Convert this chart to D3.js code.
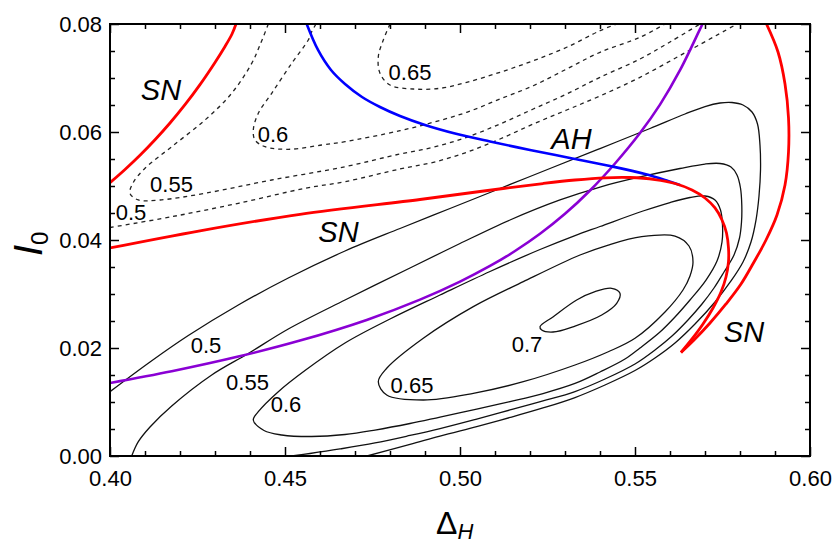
<!DOCTYPE html>
<html>
<head>
<meta charset="utf-8">
<script src="https://cdn.jsdelivr.net/npm/d3@7"></script>
<style>
  body { margin: 0; background: #ffffff; }
  svg { display: block; font-family: "Liberation Sans", Arial, sans-serif; }
</style>
</head>
<body>
<svg id="chart" width="834" height="543"></svg>
<script>
// Axis ticks
const xMajorTicks = [0.40, 0.45, 0.50, 0.55, 0.60];
const xMinorTicks = [0.41, 0.42, 0.43, 0.44, 0.46, 0.47, 0.48, 0.49, 0.51, 0.52, 0.53, 0.54, 0.56, 0.57, 0.58, 0.59];
const yMajorTicks = [0.00, 0.02, 0.04, 0.06, 0.08];
const yMinorTicks = [0.005, 0.01, 0.015, 0.025, 0.03, 0.035, 0.045, 0.05, 0.055, 0.065, 0.07, 0.075];

// Saddle-node bifurcation curves [Δ_H, I_0]
const snLeft = [[0.4000,0.05061],[0.40429,0.05306],[0.40857,0.05569],[0.41286,0.05856],[0.41714,0.06167],
  [0.42143,0.06506],[0.42571,0.06878],[0.43000,0.07289],[0.43286,0.07585],[0.43486,0.07815],[0.43600,0.08]];
const snLower = [[0.4000,0.03852],[0.42571,0.04170],[0.45429,0.04476],[0.48857,0.04750],[0.50571,0.04898],
  [0.52371,0.05046],[0.53286,0.05111],[0.54143,0.05152],[0.54857,0.05157],[0.55571,0.05120],[0.56143,0.05046],
  [0.56629,0.04926],[0.57000,0.04778],[0.57286,0.04593],[0.57486,0.04370],[0.57614,0.04130],[0.57671,0.03852],
  [0.57671,0.03593],[0.57600,0.03315],[0.57457,0.03037],[0.57229,0.02741],[0.56943,0.02444],[0.56629,0.02167],
  [0.56314,0.01917]];
const snRight = [[0.58757,0.08],[0.59086,0.07481],[0.59286,0.06889],[0.59386,0.06259],[0.59386,0.05630],
  [0.59286,0.05019],[0.59057,0.04463],[0.58743,0.04000],[0.58400,0.03593],[0.58029,0.03185],[0.57600,0.02815],
  [0.57143,0.02463],[0.56686,0.02148],[0.56314,0.01917]];

// Andronov-Hopf curve
const ahCurve = [[0.45620,0.08],[0.45943,0.07519],[0.46314,0.07148],[0.46714,0.06889],[0.47200,0.06648],
  [0.47714,0.06463],[0.48286,0.06296],[0.49000,0.06130],[0.49857,0.05972],[0.50857,0.05824],[0.52000,0.05667],
  [0.53143,0.05519],[0.54286,0.05370],[0.55286,0.05222],[0.55943,0.05093],[0.56286,0.05019]];

// Purple boundary curve
const purpleCurve = [[0.4000,0.01352],[0.41763,0.01569],[0.43666,0.01841],[0.45429,0.02137],[0.47334,0.02520],
  [0.48857,0.02896],[0.50000,0.03230],[0.50857,0.03519],[0.51571,0.03796],[0.52286,0.04115],[0.53000,0.04485],
  [0.53714,0.04917],[0.54429,0.05417],[0.55143,0.05981],[0.55714,0.06507],[0.56286,0.07144],[0.56857,0.07904],
  [0.56929,0.08]];

// Dashed level lines (upper branch)
const dashed050 = [[0.4000,0.04231],[0.41763,0.04431],[0.43666,0.04680],[0.45571,0.04957],[0.46714,0.05080],
  [0.48286,0.05315],[0.49237,0.05439],[0.50191,0.05624],[0.51143,0.05870],[0.52094,0.06148],[0.53049,0.06407],
  [0.54000,0.06667],[0.55143,0.07013],[0.56571,0.07519],[0.57914,0.08]];
const dashed055 = [[0.44523,0.08],[0.44286,0.07611],[0.44049,0.07272],[0.43477,0.06717],[0.42714,0.06222],
  [0.41763,0.05728],[0.41000,0.05328],[0.40657,0.05056],[0.40571,0.04865],[0.40809,0.04741],[0.41429,0.04741],
  [0.42714,0.04865],[0.44620,0.05111],[0.46714,0.05357],[0.48286,0.05593],[0.49237,0.05717],[0.50191,0.05902],
  [0.51143,0.06148],[0.52094,0.06426],[0.53049,0.06704],[0.54000,0.07013],[0.55143,0.07352],[0.56000,0.07667],
  [0.56857,0.08]];
const dashed060 = [[0.45886,0.08],[0.45763,0.07857],[0.45666,0.07704],[0.45191,0.07272],[0.44620,0.06717],
  [0.44237,0.06346],[0.44094,0.06037],[0.44143,0.05852],[0.44429,0.05728],[0.45094,0.05680],[0.46049,0.05759],
  [0.46714,0.05820],[0.48286,0.06024],[0.49237,0.06180],[0.50191,0.06365],[0.51143,0.06611],[0.52094,0.06857],
  [0.53049,0.07167],[0.54000,0.07476],[0.55143,0.07754],[0.55857,0.08]];
const dashed065 = [[0.48000,0.08],[0.47809,0.07704],[0.47666,0.07394],[0.47714,0.07087],[0.48000,0.06870],
  [0.48666,0.06796],[0.49429,0.06809],[0.50191,0.06920],[0.51143,0.07106],[0.52094,0.07320],[0.53049,0.07569],
  [0.54000,0.07876],[0.54477,0.08]];

// Solid level lines (lower branch)
const solid050 = [[0.4000,0.01191],[0.41143,0.01741],[0.42237,0.02231],[0.43666,0.02796],[0.45094,0.03296],
  [0.46714,0.03796],[0.48286,0.04213],[0.49714,0.04583],[0.51143,0.04954],[0.52571,0.05324],[0.54000,0.05694],
  [0.55429,0.06065],[0.56429,0.06333],[0.57000,0.06472],[0.57429,0.06537],[0.57771,0.06546],[0.58086,0.06500],
  [0.58343,0.06370],[0.58500,0.06148],[0.58571,0.05759],[0.58586,0.05296],[0.58543,0.04815],[0.58457,0.04370],
  [0.58314,0.03963],[0.58086,0.03593],[0.57743,0.03241],[0.57286,0.02852],[0.56714,0.02444],[0.56143,0.02093],
  [0.55571,0.01815],[0.55000,0.01583],[0.54143,0.01315],[0.53286,0.01083],[0.52371,0.00889],[0.51429,0.00713],
  [0.50477,0.00546],[0.49429,0.00370],[0.48571,0.00213],[0.47343,0.0]];
const solid055 = [[0.4062,0.0],[0.40809,0.00265],[0.41143,0.00537],[0.41763,0.00926],[0.42906,0.01500],
  [0.43951,0.01898],[0.45094,0.02352],[0.46714,0.02889],[0.48571,0.03481],[0.50000,0.03935],[0.51429,0.04370],
  [0.52857,0.04741],[0.54000,0.04981],[0.55143,0.05167],[0.56286,0.05324],[0.57000,0.05407],[0.57429,0.05417],
  [0.57743,0.05352],[0.57914,0.05204],[0.58014,0.04963],[0.58051,0.04648],[0.58043,0.04333],[0.57986,0.04037],
  [0.57829,0.03722],[0.57543,0.03407],[0.57257,0.03111],[0.56914,0.02815],[0.56514,0.02519],[0.56057,0.02222],
  [0.55571,0.01963],[0.55000,0.01704],[0.54143,0.01426],[0.53286,0.01194],[0.52371,0.01019],[0.51429,0.00852],
  [0.50477,0.00685],[0.49429,0.00509],[0.48571,0.00380],[0.47571,0.00241],[0.46571,0.00130],[0.45714,0.00046],
  [0.45191,0.0]];
const solid060 = [[0.44094,0.00667],[0.44237,0.00820],[0.44809,0.01191],[0.45571,0.01583],[0.46714,0.02093],
  [0.48000,0.02537],[0.49429,0.02981],[0.50857,0.03417],[0.52286,0.03824],[0.53286,0.04083],[0.54000,0.04250],
  [0.55229,0.04537],[0.56000,0.04694],[0.56571,0.04787],[0.57000,0.04815],[0.57286,0.04741],[0.57443,0.04556],
  [0.57500,0.04278],[0.57486,0.03963],[0.57343,0.03611],[0.57029,0.03259],[0.56571,0.02889],[0.56143,0.02574],
  [0.55714,0.02296],[0.55143,0.02000],[0.54714,0.01796],[0.54000,0.01556],[0.53286,0.01343],[0.52371,0.01157],
  [0.51429,0.01009],[0.50477,0.00870],[0.49429,0.00722],[0.48571,0.00602],[0.47571,0.00481],[0.46714,0.00398],
  [0.45763,0.00361],[0.44906,0.00389],[0.44400,0.00472]];
const solid065 = [[0.47666,0.01376],[0.47906,0.01624],[0.48951,0.02180],[0.50380,0.02765],[0.51809,0.03228],
  [0.53429,0.03722],[0.54237,0.03907],[0.55191,0.04061],[0.56143,0.04074],[0.56543,0.03889],[0.56657,0.03593],
  [0.56571,0.03333],[0.56371,0.03074],[0.55857,0.02667],[0.55000,0.02180],[0.54237,0.01931],[0.53286,0.01685],
  [0.51809,0.01376],[0.50380,0.01161],[0.48951,0.01037],[0.47906,0.01130]];
const solid070 = [[0.52286,0.02394],[0.52666,0.02580],[0.53334,0.02889],[0.53857,0.03043],[0.54334,0.03106],
  [0.54571,0.03013],[0.54477,0.02828],[0.54049,0.02611],[0.53286,0.02407],[0.52657,0.02296],[0.52334,0.02333]];

// Curve annotations [text, Δ_H, I_0]
const curveLabels = [["SN",0.41457,0.06593],["SN",0.46529,0.03963],["SN",0.58114,0.02111],["AH",0.53186,0.05685]];
const levelLabels = [["0.65",0.48571,0.06963],["0.6",0.44657,0.05815],["0.55",0.41757,0.04889],["0.5",0.40600,0.04370],
  ["0.5",0.42743,0.01907],["0.55",0.43929,0.01222],["0.6",0.45029,0.00815],["0.65",0.48629,0.01167],["0.7",0.51914,0.01926]];

const svg = d3.select("#chart");
const margin = {left: 110, right: 24, top: 24, bottom: 87};
const W = 834, H = 543;
const x = d3.scaleLinear().domain([0.40, 0.60]).range([margin.left, W - margin.right]);
const y = d3.scaleLinear().domain([0.00, 0.08]).range([H - margin.bottom, margin.top]);

svg.append("defs").append("clipPath").attr("id", "plotClip")
  .append("rect").attr("x", x(0.40)).attr("y", y(0.08))
  .attr("width", x(0.60) - x(0.40)).attr("height", y(0) - y(0.08));

const plot = svg.append("g").attr("clip-path", "url(#plotClip)");
const line = d3.line().x(d => x(d[0])).y(d => y(d[1])).curve(d3.curveCatmullRom.alpha(0.5));
const closedLine = d3.line().x(d => x(d[0])).y(d => y(d[1])).curve(d3.curveCatmullRomClosed.alpha(0.5));

function draw(data, gen, color, width, dash) {
  plot.append("path").attr("d", gen(data)).attr("fill", "none")
    .attr("stroke", color).attr("stroke-width", width)
    .attr("stroke-dasharray", dash || null).attr("stroke-linejoin", "round");
}

// Level lines
[dashed050, dashed055, dashed060, dashed065].forEach(d => draw(d, line, "#222", 1.3, "4,4"));
[solid050, solid055].forEach(d => draw(d, line, "#111", 1.3));
[solid060, solid065, solid070].forEach(d => draw(d, closedLine, "#111", 1.3));

// Bifurcation curves
draw(purpleCurve, line, "#8a00d4", 2.6);
draw(ahCurve, line, "#0000ff", 2.6);
draw(snLeft, line, "#ff0000", 2.8);
draw(snLower, line, "#ff0000", 2.8);
draw(snRight, line, "#ff0000", 2.8);

// Labels
const lab = svg.append("g");
lab.selectAll("text.curve").data(curveLabels).join("text").attr("class", "curve")
  .attr("x", d => x(d[1])).attr("y", d => y(d[2])).attr("text-anchor", "middle")
  .attr("font-size", 29).attr("font-style", "italic").text(d => d[0]);
lab.selectAll("text.level").data(levelLabels).join("text").attr("class", "level")
  .attr("x", d => x(d[1])).attr("y", d => y(d[2])).attr("text-anchor", "middle")
  .attr("font-size", 22).text(d => d[0]);

// Axes with inward ticks
const fmt = d3.format(".2f");
function axisGroup(axis, tx, ty) {
  const g = svg.append("g").attr("transform", `translate(${tx},${ty})`).call(axis);
  g.select(".domain").remove();
  g.selectAll("line").attr("stroke", "#000").attr("stroke-width", 1.5);
  g.selectAll("text").attr("font-size", 22).attr("fill", "#000").attr("font-family", "Liberation Sans, Arial, sans-serif");
  return g;
}
const yb = y(0), yt = y(0.08), xl = x(0.40), xr = x(0.60);
axisGroup(d3.axisBottom(x).tickValues(xMajorTicks).tickFormat(fmt).tickSizeInner(-9).tickSizeOuter(0).tickPadding(14), 0, yb);
axisGroup(d3.axisBottom(x).tickValues(xMinorTicks).tickFormat("").tickSizeInner(-5).tickSizeOuter(0), 0, yb);
axisGroup(d3.axisTop(x).tickValues(xMajorTicks).tickFormat("").tickSizeInner(-9).tickSizeOuter(0), 0, yt);
axisGroup(d3.axisTop(x).tickValues(xMinorTicks).tickFormat("").tickSizeInner(-5).tickSizeOuter(0), 0, yt);
axisGroup(d3.axisLeft(y).tickValues(yMajorTicks).tickFormat(fmt).tickSizeInner(-9).tickSizeOuter(0).tickPadding(8), xl, 0);
axisGroup(d3.axisLeft(y).tickValues(yMinorTicks).tickFormat("").tickSizeInner(-5).tickSizeOuter(0), xl, 0);
axisGroup(d3.axisRight(y).tickValues(yMajorTicks).tickFormat("").tickSizeInner(-9).tickSizeOuter(0), xr, 0);
axisGroup(d3.axisRight(y).tickValues(yMinorTicks).tickFormat("").tickSizeInner(-5).tickSizeOuter(0), xr, 0);

// Frame
svg.append("rect").attr("x", xl).attr("y", yt).attr("width", xr - xl).attr("height", yb - yt)
  .attr("fill", "none").attr("stroke", "#000").attr("stroke-width", 2);

// Axis titles
const xt = svg.append("text").attr("x", 436).attr("y", 534).attr("font-size", 32);
xt.append("tspan").text("Δ");
xt.append("tspan").attr("font-size", 22).attr("font-style", "italic").attr("dy", 5).text("H");

const ytl = svg.append("text").attr("transform", "translate(42,256) rotate(-90)").attr("font-size", 40);
ytl.append("tspan").attr("font-style", "italic").text("I");
ytl.append("tspan").attr("font-size", 24).attr("dy", 6).text("0");
</script>
</body>
</html>
